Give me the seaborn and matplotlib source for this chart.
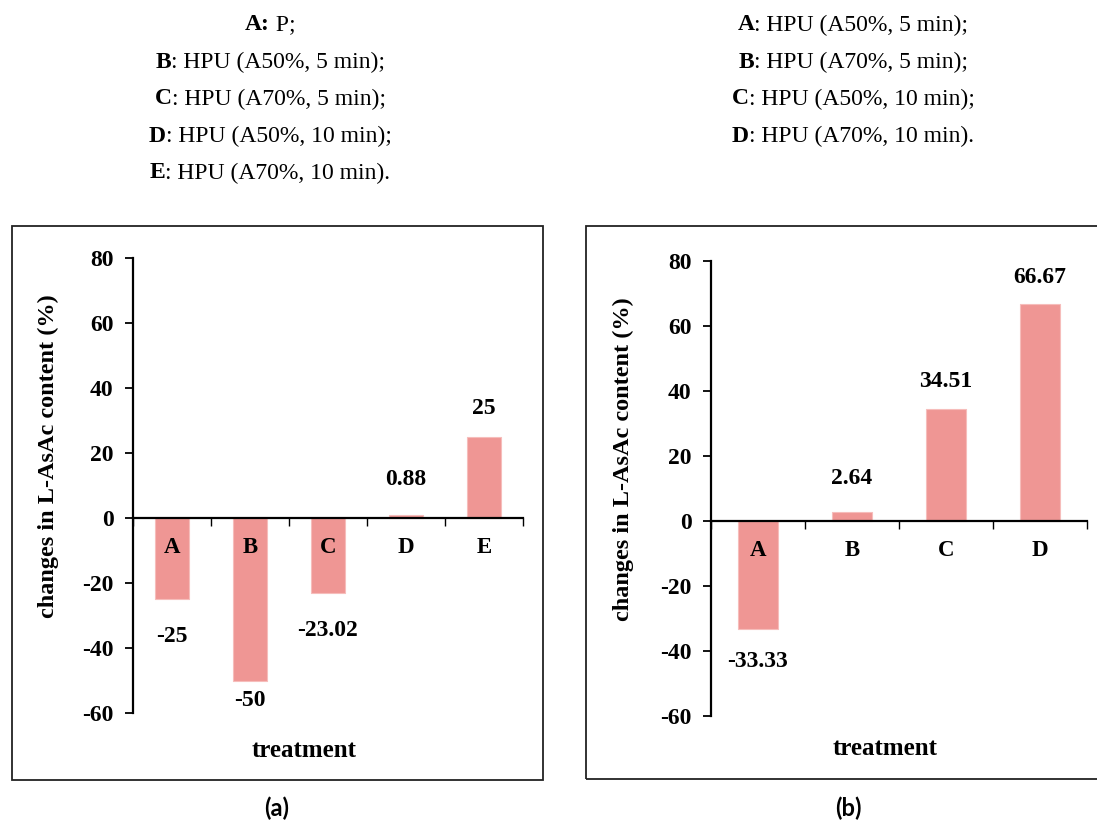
import matplotlib
matplotlib.use("Agg")
import matplotlib.pyplot as plt
import seaborn as sns
import pandas as pd
from matplotlib.patches import Rectangle

# ---- data ----
cats_a = ["A", "B", "C", "D", "E"]
vals_a = [-25, -50, -23.02, 0.88, 25]
lbls_a = ["-25", "-50", "-23.02", "0.88", "25"]
lbl_y_a = [-36.6, -56.0, -34.5, 11.7, 33.8]

cats_b = ["A", "B", "C", "D"]
vals_b = [-33.33, 2.64, 34.51, 66.67]
lbls_b = ["-33.33", "2.64", "34.51", "66.67"]
lbl_y_b = [-43.1, 13.2, 42.8, 75.0]

legend_a = [("A:", " P;"),
            ("B", ": HPU (A50%, 5 min);"),
            ("C", ": HPU (A70%, 5 min);"),
            ("D", ": HPU (A50%, 10 min);"),
            ("E", ": HPU (A70%, 10 min).")]
legend_b = [("A", ": HPU (A50%, 5 min);"),
            ("B", ": HPU (A70%, 5 min);"),
            ("C", ": HPU (A50%, 10 min);"),
            ("D", ": HPU (A70%, 10 min).")]

yticks = [-60, -40, -20, 0, 20, 40, 60, 80]
ylabel = "changes in L-AsAc content (%)"
xlabel = "treatment"
bar_color = "#EF9694"

sns.set_theme(style="white")
plt.rcParams["font.family"] = ["Liberation Serif", "DejaVu Serif"]
plt.rcParams["text.color"] = "black"
plt.rcParams["axes.labelcolor"] = "black"
plt.rcParams["xtick.color"] = "black"
plt.rcParams["ytick.color"] = "black"

W, H = 1097, 822
fig = plt.figure(figsize=(W / 100, H / 100), dpi=100)
fig.patch.set_facecolor("white")


def fx(px):
    return px / W


def fy(py):
    return 1 - py / H


# panel boxes
for (x0, y0, x1, y1) in [(12, 226, 543, 780), (586, 226, 1110, 779)]:
    fig.patches.append(Rectangle((fx(x0), fy(y1)), fx(x1) - fx(x0), fy(y0) - fy(y1),
                                 transform=fig.transFigure, fill=False,
                                 edgecolor="#222222", linewidth=1.3, zorder=0))


def draw_panel(rect, cats, vals, lbls, lbl_y, ylab_x, ylab_y, xlab_x, xlab_y,
               panel_tag, tag_x):
    x0, ytop, x1, ybot = rect
    ax = fig.add_axes([fx(x0), fy(ybot), fx(x1) - fx(x0), fy(ytop) - fy(ybot)])
    ax.set_facecolor("none")
    df = pd.DataFrame({"cat": cats, "val": vals})
    sns.barplot(data=df, x="cat", y="val", color=bar_color, saturation=1,
                width=0.43, ax=ax, edgecolor="#F6BDBB", linewidth=0.8)
    n = len(cats)
    ax.set_xlim(-0.5, n - 0.5)
    ax.set_ylim(-60, 80)
    ax.set_yticks(yticks)
    ax.set_yticklabels([str(t) for t in yticks], fontsize=17, fontweight="bold")
    ax.set_xticks([i + 0.5 for i in range(-1, n)])
    ax.set_xticklabels([])
    for s in ["top", "right"]:
        ax.spines[s].set_visible(False)
    ax.spines["bottom"].set_position(("data", 0))
    for s in ["left", "bottom"]:
        ax.spines[s].set_color("black")
        ax.spines[s].set_linewidth(1.6)
    ax.tick_params(axis="y", direction="out", length=6, width=1.3, color="black",
                   left=True, pad=8)
    ax.tick_params(axis="x", direction="out", length=6, width=1.0, color="black",
                   bottom=True)
    ax.set_xlabel("")
    ax.set_ylabel("")
    for i, c in enumerate(cats):
        ax.text(i, -9.2, c, ha="center", va="center", fontsize=16.5, fontweight="bold")
    for i, (t, yy) in enumerate(zip(lbls, lbl_y)):
        ax.text(i, yy, t, ha="center", va="center", fontsize=17, fontweight="bold")
    fig.text(fx(ylab_x), fy(ylab_y), ylabel, rotation=90, ha="center",
             va="center", fontsize=17.5, fontweight="bold")
    fig.text(fx(xlab_x), fy(xlab_y), xlabel, ha="center", va="center",
             fontsize=18, fontweight="bold")
    fig.text(fx(tag_x), fy(808), panel_tag, ha="center", va="center",
             fontsize=17, fontweight="bold", family=["Lato", "DejaVu Sans"])
    return ax


draw_panel((133, 258, 523, 713), cats_a, vals_a, lbls_a, lbl_y_a, 48, 456, 304, 750,
           "(a)", 277)
draw_panel((711, 261, 1087, 716), cats_b, vals_b, lbls_b, lbl_y_b, 623, 459, 885, 748,
           "(b)", 848)

# legend-style text lines above panels
fig.canvas.draw()
renderer = fig.canvas.get_renderer()


def centered_line(cx, py, bold_part, rest):
    t1 = fig.text(0, fy(py), bold_part, ha="left", va="center", fontsize=17,
                  fontweight="bold")
    t2 = fig.text(0, fy(py), rest, ha="left", va="center", fontsize=17)
    w1 = t1.get_window_extent(renderer).width
    w2 = t2.get_window_extent(renderer).width
    start = cx - (w1 + w2) / 2
    t1.set_x(fx(start))
    t2.set_x(fx(start + w1))


for k, (b, r) in enumerate(legend_a):
    centered_line(270, 25 + 37 * k, b, r)
for k, (b, r) in enumerate(legend_b):
    centered_line(853, 25 + 37 * k, b, r)

fig.savefig("out.png", dpi=100, facecolor="white")
